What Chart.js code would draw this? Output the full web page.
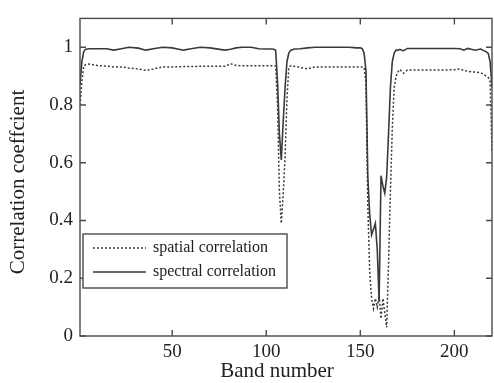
<!DOCTYPE html>
<html>
<head>
<meta charset="utf-8">
<script src="https://cdn.jsdelivr.net/npm/chart.js@4"></script>
<style>
html,body{margin:0;padding:0;background:#fff;}
canvas{display:block;}
</style>
</head>
<body>
<canvas id="c" width="494" height="383"></canvas>
<script>
const bands = [1,2,3,4,6,10,15,19,23,27,32,36,40,45,50,56,60,65,70,78,81,84,87,92,96,100,103,104,105,106,107,108,109,110,111,112,113,115,118,122,126,130,135,140,144,148,150,151,152,153,154,155,156,157,158,159,160,161,162,163,164,165,166,167,168,169,170,171,172,173,175,180,190,200,203,205,207,209,211,214,217,218,219,220];
const spectral = [0.87,0.95,0.985,0.993,0.995,0.995,0.995,0.99,0.995,1.0,0.997,0.99,0.995,1.0,0.998,0.99,0.995,1.0,0.998,0.99,0.993,0.998,1.0,1.0,0.995,0.994,0.994,0.993,0.99,0.88,0.70,0.61,0.74,0.86,0.95,0.98,0.99,0.994,0.995,0.998,1.0,1.0,1.0,1.0,1.0,0.998,0.998,0.995,0.98,0.92,0.55,0.42,0.35,0.37,0.39,0.30,0.12,0.555,0.52,0.495,0.55,0.70,0.86,0.95,0.98,0.99,0.99,0.993,0.99,0.988,0.996,0.996,0.996,0.996,0.995,0.99,0.996,0.993,0.99,0.994,0.984,0.979,0.95,0.86];
const spatial = [0.80,0.88,0.935,0.94,0.942,0.937,0.935,0.932,0.932,0.928,0.925,0.92,0.925,0.932,0.932,0.933,0.933,0.934,0.934,0.934,0.943,0.937,0.936,0.936,0.936,0.936,0.936,0.936,0.935,0.80,0.50,0.39,0.49,0.62,0.82,0.93,0.936,0.934,0.93,0.925,0.932,0.932,0.932,0.932,0.932,0.932,0.932,0.932,0.93,0.88,0.45,0.22,0.13,0.095,0.13,0.10,0.14,0.06,0.13,0.08,0.03,0.25,0.50,0.72,0.86,0.90,0.915,0.923,0.916,0.91,0.921,0.921,0.921,0.922,0.925,0.92,0.917,0.915,0.914,0.912,0.90,0.895,0.88,0.64];
const xTicks = [50,100,150,200];
const yTicks = [0,0.2,0.4,0.6,0.8,1];
const yTickLabels = ["0","0.2","0.4","0.6","0.8","1"];
const seriesNames = ["spatial correlation","spectral correlation"];
const xTitle = "Band number";
const yTitle = "Correlation coeffcient";

const FONT = "Liberation Serif";
const AXIS = "#4a4a4a";

const framePlugin = {
  id: 'frame',
  afterDraw(chart) {
    const ctx = chart.ctx;
    const a = chart.chartArea;
    const xs = chart.scales.x, ys = chart.scales.y;
    ctx.save();
    ctx.strokeStyle = AXIS;
    ctx.lineWidth = 1.4;
    ctx.strokeRect(a.left, a.top, a.right - a.left, a.bottom - a.top);
    const tl = 6;
    ctx.beginPath();
    xTicks.forEach(v => {
      const px = xs.getPixelForValue(v);
      ctx.moveTo(px, a.bottom); ctx.lineTo(px, a.bottom - tl);
      ctx.moveTo(px, a.top); ctx.lineTo(px, a.top + tl);
    });
    yTicks.forEach(v => {
      const py = ys.getPixelForValue(v);
      ctx.moveTo(a.left, py); ctx.lineTo(a.left + tl, py);
      ctx.moveTo(a.right, py); ctx.lineTo(a.right - tl, py);
    });
    ctx.stroke();

    // legend
    const lx = 83, ly = 234, lw = 204, lh = 54;
    ctx.fillStyle = '#fff';
    ctx.fillRect(lx, ly, lw, lh);
    ctx.strokeStyle = AXIS;
    ctx.lineWidth = 1.4;
    ctx.strokeRect(lx, ly, lw, lh);
    const rows = [248, 272];
    const dsOrder = [1, 0];
    ctx.font = "16px '" + FONT + "'";
    ctx.textBaseline = 'middle';
    ctx.textAlign = 'left';
    dsOrder.forEach((di, r) => {
      const ds = chart.data.datasets[di];
      ctx.beginPath();
      ctx.strokeStyle = ds.borderColor;
      ctx.lineWidth = ds.borderWidth;
      ctx.setLineDash(ds.borderDash || []);
      ctx.moveTo(93, rows[r]); ctx.lineTo(146, rows[r]);
      ctx.stroke();
      ctx.setLineDash([]);
      ctx.fillStyle = '#222';
      ctx.fillText(ds.label, 153, rows[r]);
    });

    // axis titles
    ctx.fillStyle = '#222';
    ctx.font = "21px '" + FONT + "'";
    ctx.textAlign = 'center';
    ctx.textBaseline = 'alphabetic';
    ctx.fillText(xTitle, 277, 377);
    ctx.translate(24, 182);
    ctx.rotate(-Math.PI / 2);
    ctx.fillText(yTitle, 0, 0);
    ctx.restore();
  }
};

new Chart(document.getElementById('c'), {
  type: 'line',
  data: {
    datasets: [
      {
        label: seriesNames[1],
        data: bands.map((b, i) => ({x: b, y: spectral[i]})),
        borderColor: '#3a3a3a',
        borderWidth: 1.6,
        pointRadius: 0,
        tension: 0,
        fill: false
      },
      {
        label: seriesNames[0],
        data: bands.map((b, i) => ({x: b, y: spatial[i]})),
        borderColor: '#3a3a3a',
        borderWidth: 1.5,
        borderDash: [2, 2],
        pointRadius: 0,
        tension: 0,
        fill: false
      }
    ]
  },
  options: {
    responsive: false,
    animation: false,
    devicePixelRatio: 1,
    layout: {padding: {top: 7, right: 2, left: 0, bottom: 0}},
    plugins: {legend: {display: false}, tooltip: {enabled: false}, title: {display: false}},
    scales: {
      x: {
        type: 'linear', min: 1, max: 220,
        afterBuildTicks: s => { s.ticks = xTicks.map(v => ({value: v})); },
        afterFit: s => { s.height = 47; },
        grid: {display: false, drawTicks: false},
        border: {display: false},
        ticks: {padding: 5, color: '#222', font: {family: FONT, size: 19}, maxRotation: 0, callback: v => String(v)}
      },
      y: {
        type: 'linear', min: 0, max: 1.1,
        afterBuildTicks: s => { s.ticks = yTicks.map(v => ({value: v})); },
        afterFit: s => { s.width = 80; },
        grid: {display: false, drawTicks: false},
        border: {display: false},
        ticks: {padding: 7, color: '#222', font: {family: FONT, size: 19}, callback: (v) => yTickLabels[yTicks.indexOf(v)]}
      }
    }
  },
  plugins: [framePlugin]
});
</script>
</body>
</html>
